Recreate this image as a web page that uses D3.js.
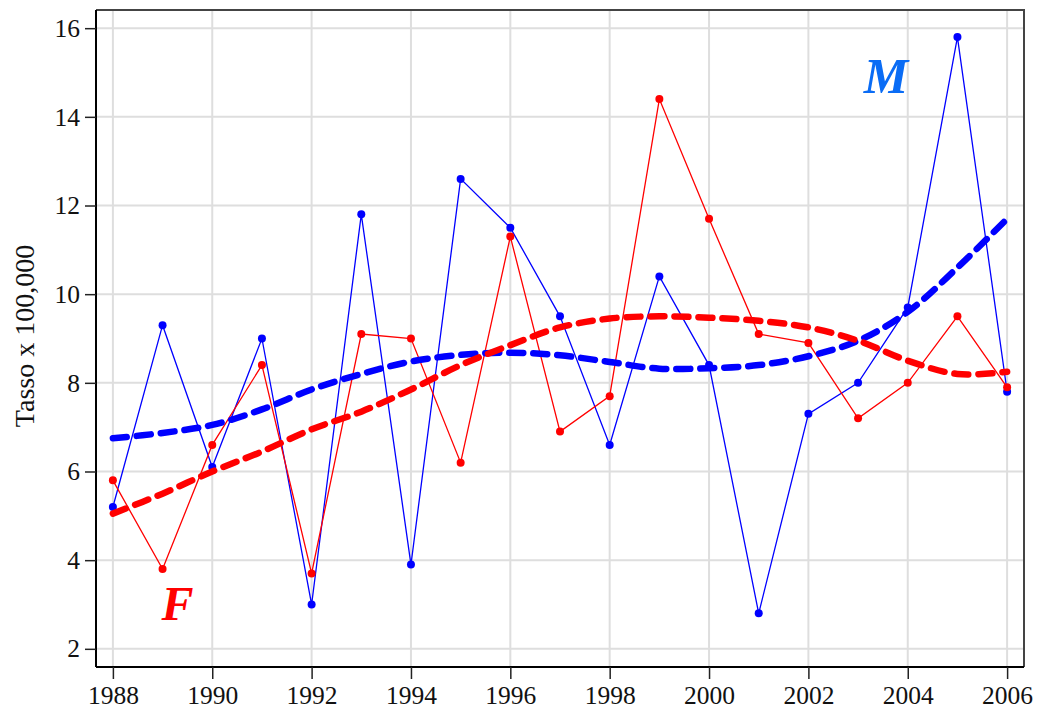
<!DOCTYPE html>
<html>
<head>
<meta charset="utf-8">
<script src="https://cdn.jsdelivr.net/npm/d3@7"></script>
<style>
  body { margin: 0; background: #fff; }
  svg text { font-family: "Liberation Serif", "DejaVu Serif", serif; }
</style>
</head>
<body>
<div class="chart"></div>
<script>
// data
const years = [1988,1989,1990,1991,1992,1993,1994,1995,1996,1997,1998,1999,2000,2001,2002,2003,2004,2005,2006]
const maschi = [5.2,9.3,6.1,9.0,3.0,11.8,3.9,12.6,11.5,9.5,6.6,10.4,8.4,2.8,7.3,8.0,9.7,15.8,7.8]
const femmine = [5.8,3.8,6.6,8.4,3.7,9.1,9.0,6.2,11.3,6.9,7.7,14.4,11.7,9.1,8.9,7.2,8.0,9.5,7.9]
// smoothed trends
const trendM = [6.75,6.87,7.05,7.4,7.85,8.2,8.48,8.63,8.68,8.62,8.47,8.32,8.33,8.4,8.6,8.95,9.6,10.6,11.7]
const trendF = [5.05,5.5,6.0,6.45,6.95,7.35,7.85,8.4,8.85,9.25,9.45,9.5,9.47,9.4,9.25,8.95,8.5,8.2,8.25]
const xTicks = [1988,1990,1992,1994,1996,1998,2000,2002,2004,2006]
const yTicks = [2,4,6,8,10,12,14,16]

const W = 1039, H = 720
const margin = { top: 10, right: 15, bottom: 53, left: 96 }
const width = W - margin.left - margin.right
const height = H - margin.top - margin.bottom

const svg = d3.select(".chart")
  .append("svg")
  .attr("width", W)
  .attr("height", H)

const g = svg.append("g")
  .attr("transform", "translate(" + margin.left + "," + margin.top + ")")

const xScale = d3.scaleLinear()
  .domain([1987.66, 2006.34])
  .range([0, width])

const yScale = d3.scaleLinear()
  .domain([1.59, 16.41])
  .range([height, 0])

// grid
g.append("g").selectAll("line")
  .data(xTicks)
  .join("line")
  .attr("x1", d => xScale(d)).attr("x2", d => xScale(d))
  .attr("y1", 0).attr("y2", height)
  .attr("stroke", "#dedede").attr("stroke-width", 2)

g.append("g").selectAll("line")
  .data(yTicks)
  .join("line")
  .attr("y1", d => yScale(d)).attr("y2", d => yScale(d))
  .attr("x1", 0).attr("x2", width)
  .attr("stroke", "#dedede").attr("stroke-width", 2)

// frame top/right
g.append("path")
  .attr("d", `M0,0H${width}V${height}`)
  .attr("fill", "none")
  .attr("stroke", "#444")
  .attr("stroke-width", 2)

const xAxis = d3.axisBottom(xScale)
  .tickValues(xTicks)
  .tickFormat(d3.format("d"))
  .tickSize(12)
  .tickSizeOuter(0)
  .tickPadding(7)

const yAxis = d3.axisLeft(yScale)
  .tickValues(yTicks)
  .tickSize(11)
  .tickSizeOuter(0)
  .tickPadding(5)

const gx = g.append("g")
  .attr("class", "axis x-axis")
  .attr("transform", `translate(0, ${height})`)
  .call(xAxis)

const gy = g.append("g")
  .attr("class", "axis y-axis")
  .call(yAxis)

for (const ax of [gx, gy]) {
  ax.select(".domain").attr("stroke", "#000").attr("stroke-width", 2)
  ax.selectAll(".tick line").attr("stroke", "#222").attr("stroke-width", 1.5)
  ax.selectAll(".tick text").attr("font-size", 25.5).attr("fill", "#111")
    .style("font-family", '"Liberation Serif", serif')
}
gx.select(".domain").attr("d", `M0,0H${width}`)
gy.select(".domain").attr("d", `M0,0V${height}`)

// y label
svg.append("text")
  .attr("transform", `translate(34, 336) rotate(-90)`)
  .attr("text-anchor", "middle")
  .attr("font-size", 28)
  .attr("fill", "#111")
  .text("Tasso x 100,000")

const line = d3.line()
  .x((d, i) => xScale(years[i]))
  .y(d => yScale(d))

const smooth = d3.line()
  .x((d, i) => xScale(years[i]))
  .y(d => yScale(d))
  .curve(d3.curveCatmullRom)

function drawSeries(vals, color) {
  g.append("path")
    .datum(vals)
    .attr("d", line)
    .attr("fill", "none")
    .attr("stroke", color)
    .attr("stroke-width", 1.3)

  g.append("g").selectAll("circle")
    .data(vals)
    .join("circle")
    .attr("cx", (d, i) => xScale(years[i]))
    .attr("cy", d => yScale(d))
    .attr("r", 4)
    .attr("fill", color)
}

drawSeries(maschi, "#0000ff")
drawSeries(femmine, "#ff0000")

function drawTrend(vals, color) {
  g.append("path")
    .datum(vals)
    .attr("d", smooth)
    .attr("fill", "none")
    .attr("stroke", color)
    .attr("stroke-width", 6.5)
    .attr("stroke-linecap", "round")
    .attr("stroke-dasharray", "14,10")
}

drawTrend(trendM, "#0000ff")
drawTrend(trendF, "#ff0000")

// series labels
g.append("text")
  .attr("x", xScale(2003.56))
  .attr("y", yScale(14.54))
  .attr("text-anchor", "middle")
  .attr("font-size", 50)
  .attr("font-weight", "bold")
  .attr("font-style", "italic")
  .attr("fill", "#0a6cf5")
  .text("M")

g.append("text")
  .attr("x", xScale(1989.3))
  .attr("y", yScale(2.65))
  .attr("text-anchor", "middle")
  .attr("font-size", 48)
  .attr("font-weight", "bold")
  .attr("font-style", "italic")
  .attr("fill", "#ff0000")
  .text("F")
</script>
</body>
</html>
